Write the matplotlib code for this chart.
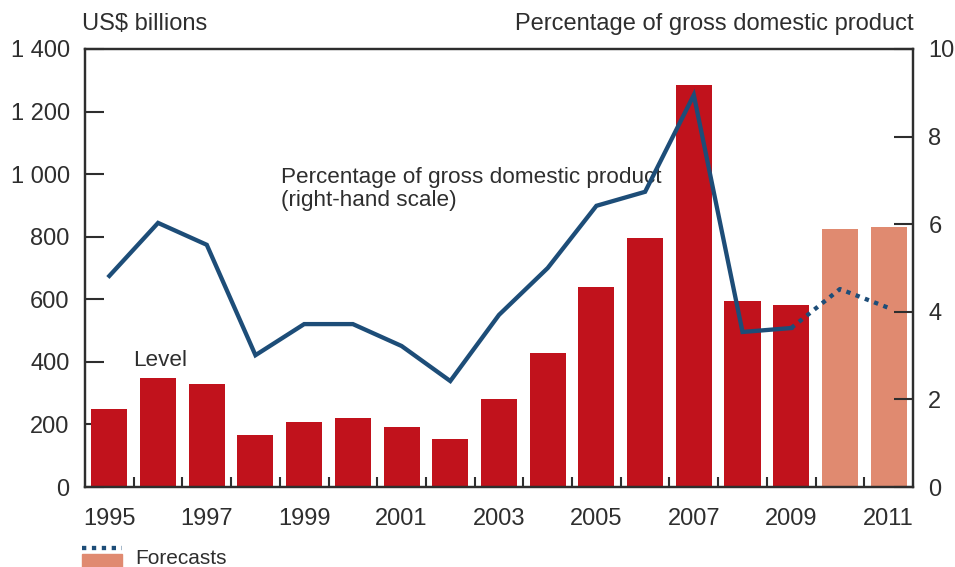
import matplotlib.pyplot as plt
from matplotlib.patches import Rectangle
from matplotlib.lines import Line2D
from matplotlib.ticker import FuncFormatter

plt.rcParams['font.family'] = ['Liberation Sans', 'DejaVu Sans']

years = list(range(1995, 2012))
level = [248, 350, 330, 165, 207, 222, 193, 152, 280, 427, 640, 797, 1285, 595, 583, 825, 832]
pct_gdp = [4.82, 6.03, 5.53, 3.01, 3.72, 3.72, 3.22, 2.42, 3.93, 5.0, 6.42, 6.74, 8.95, 3.54, 3.63, 4.52, 4.09]
is_forecast = [y >= 2010 for y in years]
xlabels = [str(y) if (y - 1995) % 2 == 0 else "" for y in years]

red = "#c1121c"
salmon = "#e08a70"
blue = "#1d4d78"
txt = "#2e2e2e"

fig = plt.figure(figsize=(9.55, 5.67), dpi=100)
ax = fig.add_axes([0.089, 0.141, 0.867, 0.7726])
ax2 = ax.twinx()

idx = list(range(len(years)))
colors = [salmon if f else red for f in is_forecast]
ax.bar(idx, level, width=0.74, color=colors, zorder=2)

# solid line for actual data, dotted for forecasts
last_actual = is_forecast.index(True) - 1
ax2.plot(idx[:last_actual + 1], pct_gdp[:last_actual + 1], color=blue, lw=3.1,
         solid_joinstyle='miter')
ax2.plot(idx[last_actual:], pct_gdp[last_actual:], color=blue, lw=3.1,
         linestyle=(0, (1, 1.3)), dash_capstyle='butt')

ax.set_xlim(-0.5, len(years) - 0.5)
ax.set_ylim(0, 1400)
ax2.set_ylim(0, 10)

ax.set_yticks(range(0, 1401, 200))
ax.yaxis.set_major_formatter(FuncFormatter(lambda v, p: f"{int(v):,}".replace(",", " ")))
ax2.set_yticks(range(0, 11, 2))

ax.set_xticks(idx)
ax.set_xticklabels(xlabels)
ax.set_xticks([i + 0.5 for i in idx[:-1]], minor=True)
ax.tick_params(axis='x', which='major', length=0, pad=15, labelsize=17, labelcolor=txt)
ax.tick_params(axis='x', which='minor', direction='in', length=7, width=1.5, color=txt)
ax.tick_params(axis='y', direction='in', length=14, width=1.5, pad=11, labelsize=17,
               labelcolor=txt, color=txt)
ax2.tick_params(axis='y', direction='in', length=14, width=1.5, pad=11, labelsize=17,
                labelcolor=txt, color=txt)

for a in (ax, ax2):
    for s in a.spines.values():
        s.set_linewidth(1.6)
        s.set_color(txt)

ax.text(3.53, 952, "Percentage of gross domestic product\n(right-hand scale)",
        fontsize=16.2, color=txt, va='center', ha='left', linespacing=1.15)
ax.text(0.49, 406, "Level", fontsize=16.2, color=txt, va='center', ha='left')

fig.text(0.086, 0.957, "US$ billions", fontsize=17, color=txt, ha='left', va='center')
fig.text(0.957, 0.957, "Percentage of gross domestic product", fontsize=17, color=txt,
         ha='right', va='center')

# legend for forecasts
fig.patches.append(Rectangle((82 / 955, 0), 40 / 955, 13 / 567, transform=fig.transFigure,
                             color=salmon))
fig.lines.append(Line2D([82 / 955, 122 / 955], [19 / 567, 19 / 567], transform=fig.transFigure,
                        color=blue, lw=3.1, linestyle=(0, (1, 1.3)), dash_capstyle='butt'))
fig.text(135 / 955, 9 / 567, "Forecasts", fontsize=15, color=txt, ha='left', va='center')

fig.savefig("out.png", dpi=100)
